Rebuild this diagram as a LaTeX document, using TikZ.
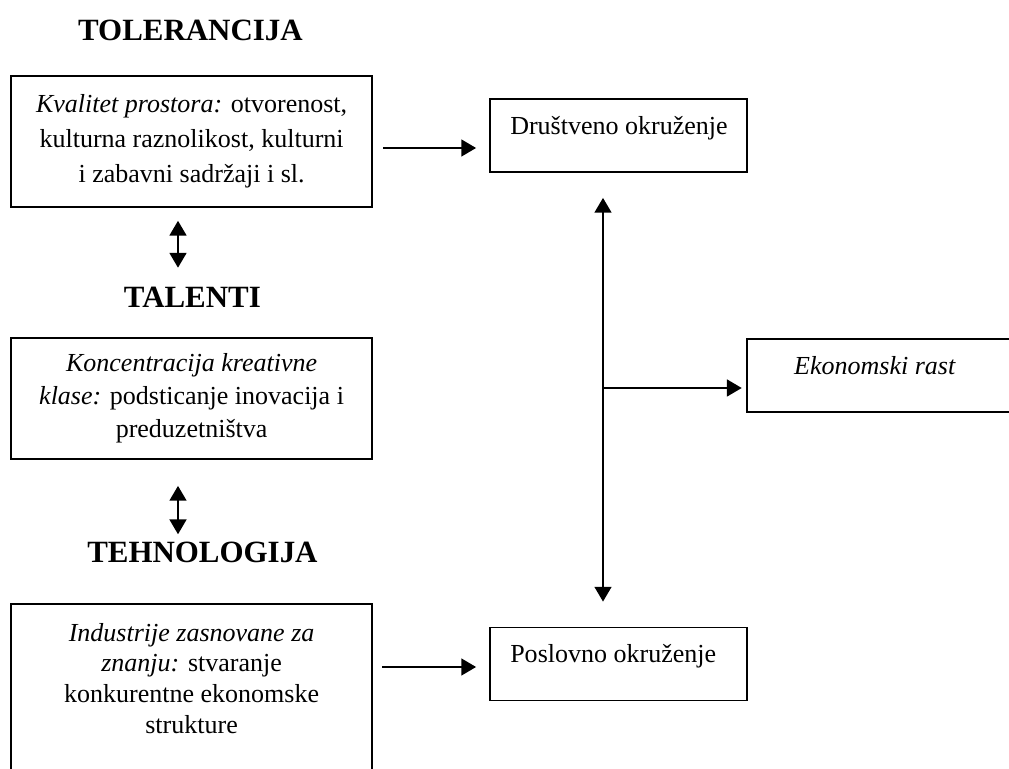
\documentclass[tikz,border=0pt]{standalone}
\usepackage{fontspec}
\setmainfont{Liberation Serif}
\usetikzlibrary{arrows.meta,positioning}

\begin{document}
\begin{tikzpicture}[scale=1.0,
    every node/.style={font=\fontsize{18.5}{25}\selectfont},
    frame/.style={draw, line width=1.3pt, inner sep=0pt},
    title/.style={font=\fontsize{22}{26}\selectfont\bfseries, inner sep=0pt, anchor=base},
    arr/.style={-{Triangle[width=12pt,length=10.5pt]}, line width=1.3pt},
    dbl/.style={{Triangle[width=12pt,length=10.5pt]}-{Triangle[width=12pt,length=10.5pt]}, line width=1.3pt}]
    % Page
    \useasboundingbox (0,0) rectangle (25.225,19.225);
    \coordinate (bottom) at (0,0);
    % Left column
    \node[title] (tol) at (4.76,18.21) {TOLERANCIJA};
    \node[frame, minimum width=9.025cm, minimum height=3.275cm, align=center] (kval) at (4.79,15.69)
        {\textit{Kvalitet prostora:} otvorenost,\\ kulturna raznolikost, kulturni\\ i zabavni sadržaji i sl.};
    \node[title] (tal) at (4.81,11.525) {TALENTI};
    \node[frame, minimum width=9.025cm, minimum height=3.025cm, align=center,
        font=\fontsize{18.5}{23.5}\selectfont] (konc) at (4.79,9.2625)
        {\textit{Koncentracija kreativne}\\ \textit{klase:} podsticanje inovacija i\\ preduzetništva};
    \node[title] (teh) at (5.06,5.15) {TEHNOLOGIJA};
    \node[minimum width=9.025cm, minimum height=3.725cm, inner sep=0pt, align=center,
        font=\fontsize{18.5}{22}\selectfont] (ind) at (4.79,2.2625)
        {\textit{Industrije zasnovane za}\\ \textit{znanju:} stvaranje\\ konkurentne ekonomske\\ strukture};
    \draw[line width=1.3pt] (ind.west |- bottom) |- (ind.north east) -- (ind.east |- bottom);
    % Right column
    \node[frame, minimum width=6.425cm, minimum height=1.825cm] (drus) at (15.4625,15.8375) {};
    \node[anchor=base west, inner sep=0pt] (drustxt) at (12.75,15.85) {Društveno okruženje};
    \node[frame, minimum width=6.425cm, minimum height=1.825cm] (posl) at (15.4625,2.625) {};
    \node[anchor=base west, inner sep=0pt] (posltxt) at (12.75,2.65) {Poslovno okruženje};
    \node[minimum width=6.6cm, minimum height=1.825cm, inner sep=0pt] (rast) at (21.975,9.8375) {};
    \draw[line width=1.3pt] (rast.north east) -- (rast.north west) -- (rast.south west) -- (rast.south east);
    \node[anchor=base, inner sep=0pt] (rasttxt) at (21.875,9.85) {\textit{Ekonomski rast}};
    % Connectors
    \coordinate (a1) at (0,15.525);
    \coordinate (a2) at (0,2.55);
    \coordinate (ax) at (4.45,0);
    \coordinate (vx) at (15.075,9.525);
    \draw[arr, shorten <=0.25cm, shorten >=0.325cm] (kval.east |- a1) -- (drus.west |- a1);
    \draw[arr, shorten <=0.25cm, shorten >=0.325cm] (ind.east |- a2) -- (posl.west |- a2);
    \draw[dbl, shorten <=0.625cm, shorten >=0.625cm] (drus.south -| vx) -- (posl.north -| vx);
    \draw[arr, shorten >=0.125cm] (vx) -- (vx -| rast.west);
    \draw[dbl, shorten <=0.325cm, shorten >=0.49cm] (kval.south -| ax) -- (tal.north -| ax);
    \draw[dbl, shorten <=0.65cm, shorten >=0.2cm] (konc.south -| ax) -- (teh.north -| ax);
\end{tikzpicture}
\end{document}
